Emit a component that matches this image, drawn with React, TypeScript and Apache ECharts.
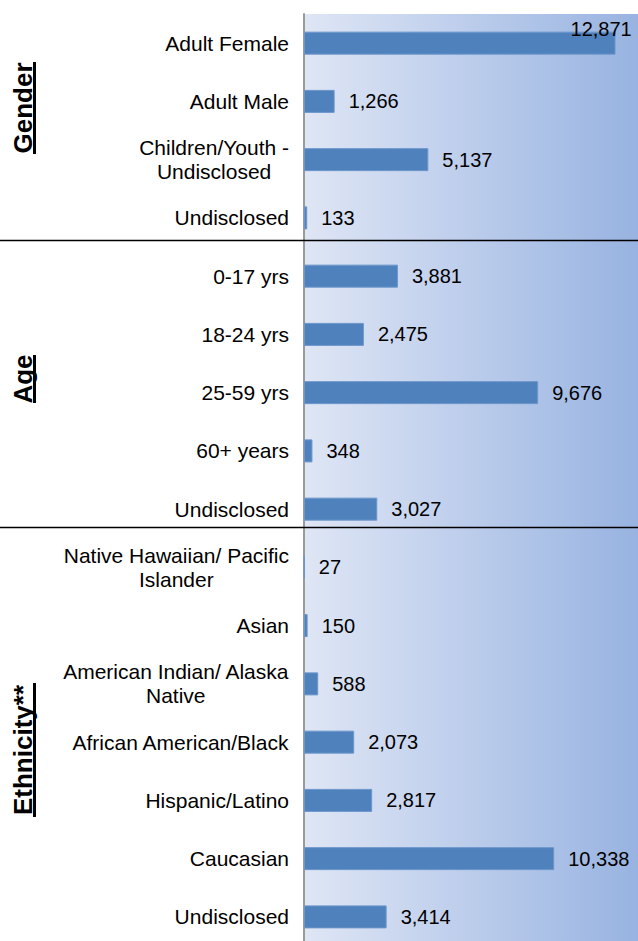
import React, { useEffect, useRef } from "react";
import * as echarts from "echarts";

const categories = [
  "Adult Female",
  "Adult Male",
  "Children/Youth -\nUndisclosed",
  "Undisclosed",
  "0-17 yrs",
  "18-24 yrs",
  "25-59 yrs",
  "60+ years",
  "Undisclosed",
  "Native Hawaiian/ Pacific\nIslander",
  "Asian",
  "American Indian/ Alaska\nNative",
  "African American/Black",
  "Hispanic/Latino",
  "Caucasian",
  "Undisclosed",
];
const values = [12871, 1266, 5137, 133, 3881, 2475, 9676, 348, 3027, 27, 150, 588, 2073, 2817, 10338, 3414];
const groupLabels = ["Gender", "Age", "Ethnicity**"];

const FONT = "'Liberation Sans', Arial, sans-serif";

export default function App() {
  const ref = useRef<HTMLDivElement>(null);
  useEffect(() => {
    document.body.style.margin = "0";
    const chart = echarts.init(ref.current!, null, { renderer: "svg" });
    const groupCenters = [108, 379, 750];
    const groupLens = [92, 48, 134];
    const graphics: any[] = [];
    groupLabels.forEach((g, i) => {
      graphics.push({
        type: "text",
        x: 23,
        y: groupCenters[i],
        rotation: Math.PI / 2,
        style: {
          text: g,
          font: `bold 26px ${FONT}`,
          fill: "#000",
          align: "center",
          verticalAlign: "middle",
        },
        z: 10,
      });
      graphics.push({
        type: "rect",
        shape: { x: 33, y: groupCenters[i] - groupLens[i] / 2, width: 3, height: groupLens[i] },
        style: { fill: "#000" },
        z: 10,
      });
    });
    [240.5, 527.5].forEach((y) => {
      graphics.push({
        type: "line",
        shape: { x1: 0, y1: y, x2: 638, y2: y },
        style: { stroke: "#000", lineWidth: 1.5 },
        z: 10,
      });
    });

    chart.setOption({
      animation: false,
      grid: {
        left: 304,
        right: 0,
        top: 14,
        height: 932,
        show: true,
        borderWidth: 0,
        backgroundColor: new echarts.graphic.LinearGradient(0, 0, 1, 0, [
          { offset: 0, color: "#dfe6f5" },
          { offset: 1, color: "#98b3e1" },
        ]),
      },
      xAxis: {
        type: "value",
        min: 0,
        max: 13800,
        show: false,
        splitLine: { show: false },
      },
      yAxis: {
        type: "category",
        inverse: true,
        data: categories,
        axisTick: { show: false },
        axisLine: { show: true, lineStyle: { color: "#9a9a9a", width: 2 } },
        axisLabel: {
          margin: 15,
          color: "#000",
          fontFamily: FONT,
          fontSize: 21,
          lineHeight: 24,
          formatter: (v: string) =>
            v
              .split("\n")
              .map((s) => `{c|${s}}`)
              .join("\n"),
          rich: {
            c: { align: "center", fontSize: 21, lineHeight: 24, fontFamily: FONT, color: "#000" },
          },
        },
      },
      series: [
        {
          type: "bar",
          barWidth: 23,
          data: values.map((v) =>
            v === Math.max(...values)
              ? { value: v, label: { offset: [-59, -14] } }
              : v
          ),
          itemStyle: { color: "#4f81bd", borderColor: "#6d96ca", borderWidth: 1 },
          label: {
            show: true,
            position: "right",
            distance: 14,
            color: "#000",
            fontFamily: FONT,
            fontSize: 20,
            formatter: (p: any) => Number(p.value).toLocaleString("en-US"),
          },
        },
      ],
      graphic: graphics,
    });
    return () => chart.dispose();
  }, []);
  return (
    <div style={{ width: 638, height: 941, overflow: "hidden" }}>
      <div ref={ref} style={{ width: 638, height: 946 }} />
    </div>
  );
}
